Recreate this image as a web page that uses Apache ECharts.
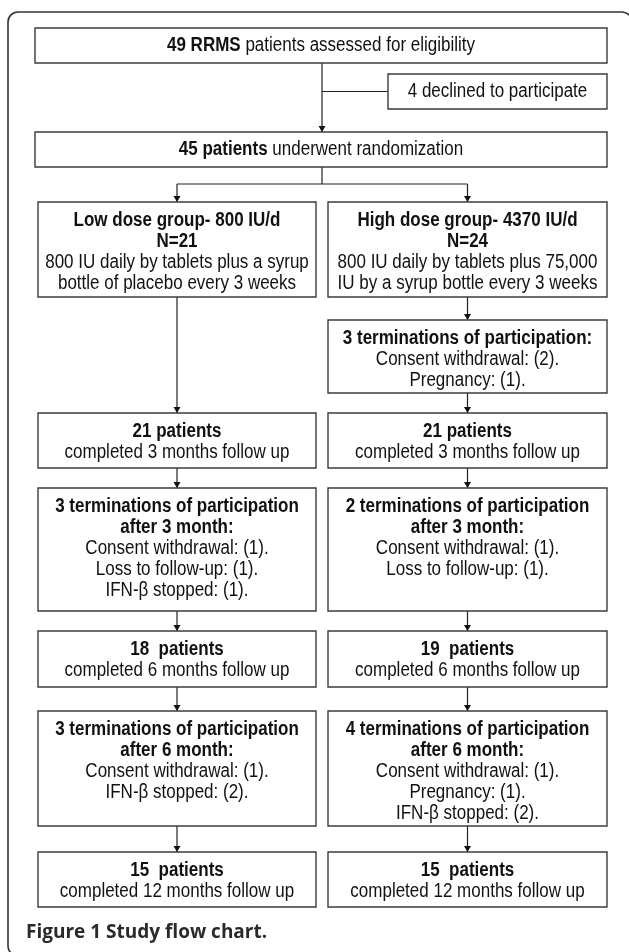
<!DOCTYPE html>
<html>
<head>
<meta charset="utf-8">
<script src="https://cdn.jsdelivr.net/npm/echarts@6/dist/echarts.min.js"></script>
<style>
  html, body { margin: 0; padding: 0; background: #fff; }
  #main { width: 629px; height: 952px; }
</style>
</head>
<body>
<div id="main"></div>
<script>
// box texts, one list of lines per box; {b|...} marks bold parts
var headTexts = [
  ['{b|49 RRMS} patients assessed for eligibility'],
  ['4 declined to participate'],
  ['{b|45 patients} underwent randomization']
];
var lowDoseTexts = [
  ['{b|Low dose group- 800 IU/d}', '{b|N=21}', '800 IU daily by tablets plus a syrup', 'bottle of placebo every 3 weeks'],
  ['{b|21 patients}', 'completed 3 months follow up'],
  ['{b|3 terminations of participation}', '{b|after 3 month:}', 'Consent withdrawal: (1).', 'Loss to follow-up: (1).', 'IFN-β stopped: (1).'],
  ['{b|18  patients}', 'completed 6 months follow up'],
  ['{b|3 terminations of participation}', '{b|after 6 month:}', 'Consent withdrawal: (1).', 'IFN-β stopped: (2).'],
  ['{b|15  patients}', 'completed 12 months follow up']
];
var highDoseTexts = [
  ['{b|High dose group- 4370 IU/d}', '{b|N=24}', '800 IU daily by tablets plus 75,000', 'IU by a syrup bottle every 3 weeks'],
  ['{b|3 terminations of participation:}', 'Consent withdrawal: (2).', 'Pregnancy: (1).'],
  ['{b|21 patients}', 'completed 3 months follow up'],
  ['{b|2 terminations of participation}', '{b|after 3 month:}', 'Consent withdrawal: (1).', 'Loss to follow-up: (1).'],
  ['{b|19  patients}', 'completed 6 months follow up'],
  ['{b|4 terminations of participation}', '{b|after 6 month:}', 'Consent withdrawal: (1).', 'Pregnancy: (1).', 'IFN-β stopped: (2).'],
  ['{b|15  patients}', 'completed 12 months follow up']
];
var caption = 'Figure 1 Study flow chart.';

// layout (page units, y grows downward)
var colFull = [35, 607], colSide = [388, 607], colLow = [38, 316], colHigh = [328, 607];
var headRows = [[28, 63], [74, 109], [132, 167]];
var lowRows = [[202, 297], [413, 468], [488, 611], [631, 687], [711, 826], [852, 907]];
var highRows = [[202, 297], [320, 393], [413, 468], [488, 611], [631, 687], [711, 826], [852, 907]];
var branchY = 184;

// Arial-Narrow look: Liberation Sans squeezed horizontally
var FONT = "'Liberation Sans', Arial, sans-serif";
var FONT_SIZE = 20;
var NARROW = 0.85;

var boxes = [];
boxes.push({ col: colFull, row: headRows[0], lines: headTexts[0] });
boxes.push({ col: colSide, row: headRows[1], lines: headTexts[1] });
boxes.push({ col: colFull, row: headRows[2], lines: headTexts[2] });
lowDoseTexts.forEach(function (t, i) { boxes.push({ col: colLow, row: lowRows[i], lines: t }); });
highDoseTexts.forEach(function (t, i) { boxes.push({ col: colHigh, row: highRows[i], lines: t }); });

function mid(c) { return (c[0] + c[1]) / 2; }
var midX = 322, lowX = mid(colLow), highX = mid(colHigh);

// connectors: [points, arrow at end?]
var links = [
  [[[midX, headRows[0][1]], [midX, headRows[2][0]]], true],
  [[[midX, mid(headRows[1])], [colSide[0], mid(headRows[1])]], false],
  [[[midX, headRows[2][1]], [midX, branchY]], false],
  [[[lowX, branchY], [highX, branchY]], false],
  [[[lowX, branchY], [lowX, lowRows[0][0]]], true],
  [[[highX, branchY], [highX, highRows[0][0]]], true]
];
for (var i = 0; i < lowRows.length - 1; i++) {
  links.push([[[lowX, lowRows[i][1]], [lowX, lowRows[i + 1][0]]], true]);
}
for (var j = 0; j < highRows.length - 1; j++) {
  links.push([[[highX, highRows[j][1]], [highX, highRows[j + 1][0]]], true]);
}

function renderBox(params, api) {
  var b = boxes[params.dataIndex];
  var p0 = api.coord([b.col[0], b.row[0]]);
  var p1 = api.coord([b.col[1], b.row[1]]);
  var children = [{
    type: 'rect',
    shape: { x: p0[0], y: p0[1], width: p1[0] - p0[0], height: p1[1] - p0[1] },
    style: { fill: '#fff', stroke: '#3c3c3c', lineWidth: 1.4 }
  }];
  var oneLine = b.lines.length === 1;
  b.lines.forEach(function (line, k) {
    var ty = oneLine ? (p0[1] + p1[1]) / 2 : p0[1] + 18.5 + k * 21;
    children.push({
      type: 'text',
      x: (p0[0] + p1[0]) / 2,
      y: ty,
      scaleX: NARROW,
      style: {
        text: line,
        x: 0,
        y: 0,
        align: 'center',
        verticalAlign: 'middle',
        fontFamily: FONT,
        fontSize: FONT_SIZE,
        fill: '#111',
        rich: { b: { fontFamily: FONT, fontSize: FONT_SIZE, fontWeight: 'bold', fill: '#111' } }
      }
    });
  });
  return { type: 'group', children: children };
}

function renderLink(params, api) {
  var l = links[params.dataIndex];
  var pts = l[0].map(function (p) { return api.coord(p); });
  var children = [{
    type: 'polyline',
    shape: { points: pts },
    style: { stroke: '#222', lineWidth: 1.2, fill: null }
  }];
  if (l[1]) {
    var e = pts[pts.length - 1];
    children.push({
      type: 'polygon',
      shape: { points: [[e[0] - 3.5, e[1] - 6], [e[0] + 3.5, e[1] - 6], [e[0], e[1]]] },
      style: { fill: '#111' }
    });
  }
  return { type: 'group', children: children };
}

var chart = echarts.init(document.getElementById('main'));
var option = {
  animation: false,
  backgroundColor: '#fff',
  title: {
    text: caption,
    left: 26,
    top: 923,
    padding: 0,
    textStyle: { fontFamily: "'Open Sans', 'Noto Sans', sans-serif", fontWeight: 'bold', fontSize: 19, color: '#2a2a2a' }
  },
  graphic: [{
    type: 'rect',
    shape: { x: 8, y: 12, width: 624, height: 944, r: 10 },
    style: { fill: 'none', stroke: '#333', lineWidth: 1.6 },
    silent: true
  }],
  grid: { left: 0, right: 0, top: 0, bottom: 0 },
  xAxis: { type: 'value', min: 0, max: 629, show: false },
  yAxis: { type: 'value', min: 0, max: 952, inverse: true, show: false },
  series: [{
    type: 'custom',
    renderItem: renderLink,
    data: links.map(function (l, i) { return [i]; }),
    silent: true
  }, {
    type: 'custom',
    renderItem: renderBox,
    data: boxes.map(function (b, i) { return [i]; }),
    silent: true
  }]
};
chart.setOption(option);
</script>
</body>
</html>
